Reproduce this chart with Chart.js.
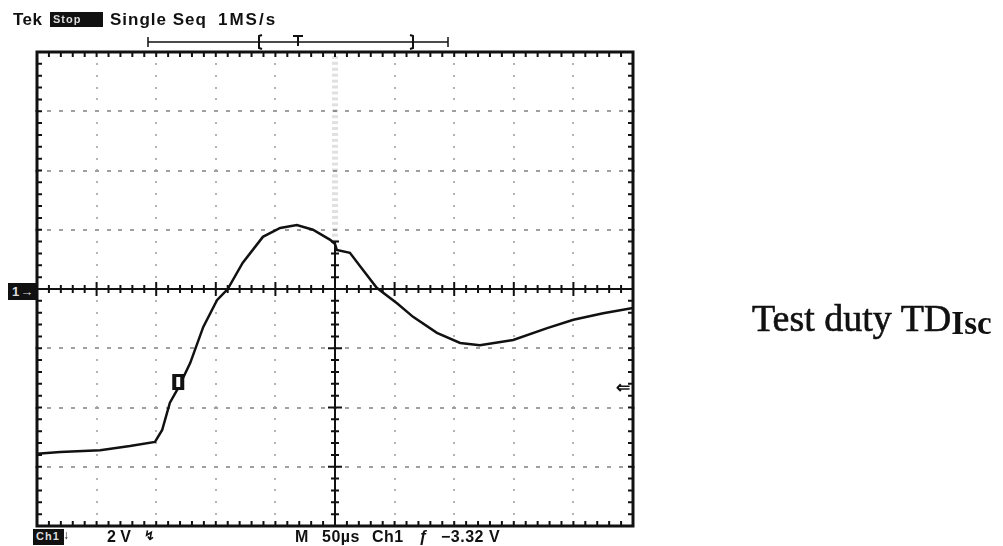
<!DOCTYPE html>
<html>
<head>
<meta charset="utf-8">
<script src="https://cdn.jsdelivr.net/npm/chart.js@4.4.0/dist/chart.umd.min.js"></script>
<style>
  html, body { margin: 0; padding: 0; background: #fff; }
  #wrap { position: relative; width: 1003px; height: 546px; overflow: hidden; }
  #scope { position: absolute; left: 0; top: 0; }
  .lbl { position: absolute; font-family: "Liberation Sans", Arial, sans-serif; font-weight: bold; font-size: 16px; color: #111; white-space: nowrap; line-height: 1; }
  .inv { background: #111; color: #ddd; padding: 2px 3px; font-size: 11px; letter-spacing: 1px; }
  #title { position: absolute; left: 752px; top: 299px; font-family: "Liberation Serif", "Times New Roman", serif; font-size: 38px; color: #111; white-space: nowrap; line-height: 1; -webkit-text-stroke: 0.6px #111; }
  #title sub { font-size: 33px; font-weight: bold; vertical-align: baseline; position: relative; top: 3px; letter-spacing: 0; -webkit-text-stroke: 0; }
</style>
</head>
<body>
<div id="wrap">
  <canvas id="scope" width="1003" height="546"></canvas>
  <div class="lbl" style="left:13px;top:11px;font-size:17px;letter-spacing:0.5px;">Tek</div>
  <div class="lbl inv" style="left:50px;top:12px;width:47px;height:11px;">Stop</div>
  <div class="lbl" style="left:110px;top:11px;font-size:17px;letter-spacing:1px;">Single Seq</div>
  <div class="lbl" style="left:218px;top:11px;font-size:17px;letter-spacing:2px;">1MS/s</div>

  <div class="lbl inv" style="left:33px;top:529px;width:25px;height:12px;">Ch1</div>
  <div class="lbl" style="left:63px;top:529px;font-size:12px;">↓</div>
  <div class="lbl" style="left:107px;top:529px;">2 V</div>
  <div class="lbl" style="left:144px;top:529px;font-size:13px;">↯</div>
  <div class="lbl" style="left:295px;top:529px;">M</div>
  <div class="lbl" style="left:322px;top:529px;letter-spacing:0.5px;">50µs</div>
  <div class="lbl" style="left:372px;top:529px;letter-spacing:0.5px;">Ch1</div>
  <div class="lbl" style="left:419px;top:529px;">ƒ</div>
  <div class="lbl" style="left:441px;top:529px;letter-spacing:0.5px;">−3.32 V</div>

  <div class="lbl inv" style="left:8px;top:283px;font-size:13px;padding:2px 4px;">1→</div>
  <div class="lbl" style="left:616px;top:379px;font-size:17px;">⇐</div>

  <div id="title">Test duty TD<sub>Isc</sub></div>
</div>
<script>
// graticule: 10 x 8 divisions, centre at (5, 0)
const X_DIVS = 10;
const Y_MIN = -4;
const Y_MAX = 4;

// trace, in divisions
const traceX = [0, 0.39, 1.06, 1.56, 1.98, 2.10, 2.23, 2.37, 2.57, 2.79, 3.02, 3.20, 3.45, 3.79, 4.08, 4.36, 4.63, 4.92, 5.00, 5.03, 5.25, 5.47, 5.70, 6.04, 6.31, 6.71, 7.10, 7.43, 7.99, 8.56, 9.00, 9.50, 10.0];
const traceY = [-2.78, -2.75, -2.72, -2.65, -2.58, -2.38, -1.92, -1.67, -1.25, -0.64, -0.19, 0, 0.44, 0.88, 1.03, 1.08, 1.00, 0.83, 0.76, 0.66, 0.61, 0.32, 0.02, -0.24, -0.47, -0.74, -0.91, -0.95, -0.86, -0.66, -0.52, -0.41, -0.32];

// channel marker on the trace
const markerX = [2.37];
const markerY = [-1.57];

const $ = (id) => document.getElementById(id);

const graticule = {
  id: "graticule",
  beforeDatasetsDraw(chart){
    const { ctx, chartArea: a, scales: { x, y } } = chart;
    ctx.save();

    // dotted grid
    ctx.fillStyle = "#b4b4b4";
    for (let i = 1; i < X_DIVS; i++) {
      if (i === 5) continue;
      const px = Math.round(x.getPixelForValue(i));
      for (let v = Y_MIN; v <= Y_MAX; v += 0.2) {
        ctx.fillRect(px - 1, Math.round(y.getPixelForValue(v)) - 1, 2, 2);
      }
    }
    ctx.fillStyle = "#a0a0a0";
    for (let j = Y_MIN + 1; j < Y_MAX; j++) {
      if (j === 0) continue;
      const py = Math.round(y.getPixelForValue(j));
      for (let v = 0; v <= X_DIVS; v += 0.2) {
        ctx.fillRect(Math.round(x.getPixelForValue(v)) - 2, py - 1, 4, 2);
      }
    }

    const cx = x.getPixelForValue(5);
    const cy = y.getPixelForValue(0);
    const cutY = y.getPixelForValue(0.8);

    // faint dotted smear on the upper half of the centre line
    ctx.fillStyle = "rgba(0,0,0,0.12)";
    for (let v = 0.8; v <= Y_MAX; v += 0.1) {
      ctx.fillRect(cx - 3, y.getPixelForValue(v) - 2, 6, 3);
    }

    // centre cross with ticks
    ctx.strokeStyle = "#111";
    ctx.lineWidth = 2;
    ctx.beginPath();
    ctx.moveTo(a.left, cy); ctx.lineTo(a.right, cy);
    ctx.moveTo(cx, cutY); ctx.lineTo(cx, a.bottom);
    ctx.stroke();

    ctx.beginPath();
    for (let v = 0; v <= X_DIVS + 0.001; v += 0.2) {
      const px = x.getPixelForValue(v);
      const major = Math.abs(v - Math.round(v)) < 0.01;
      const len = major ? 7 : 4;
      ctx.moveTo(px, cy - len); ctx.lineTo(px, cy + len);
      // border ticks
      ctx.moveTo(px, a.top); ctx.lineTo(px, a.top + 5);
      ctx.moveTo(px, a.bottom); ctx.lineTo(px, a.bottom - 5);
    }
    for (let v = Y_MIN; v <= Y_MAX + 0.001; v += 0.2) {
      const py = y.getPixelForValue(v);
      const major = Math.abs(v - Math.round(v)) < 0.01;
      const len = major ? 7 : 4;
      if (py >= cutY - 1) { ctx.moveTo(cx - len, py); ctx.lineTo(cx + len, py); }
      ctx.moveTo(a.left, py); ctx.lineTo(a.left + 5, py);
      ctx.moveTo(a.right, py); ctx.lineTo(a.right - 5, py);
    }
    ctx.stroke();

    // frame
    ctx.lineWidth = 3;
    ctx.strokeRect(a.left, a.top, a.right - a.left, a.bottom - a.top);

    // record-length bar above the screen
    ctx.lineWidth = 1.5;
    ctx.beginPath();
    ctx.moveTo(148, 42); ctx.lineTo(448, 42);
    ctx.moveTo(148, 37); ctx.lineTo(148, 47);
    ctx.moveTo(448, 37); ctx.lineTo(448, 47);
    ctx.stroke();
    ctx.lineWidth = 2;
    ctx.beginPath();
    ctx.moveTo(262, 35); ctx.lineTo(259, 36); ctx.lineTo(259, 48); ctx.lineTo(262, 49);
    ctx.moveTo(410, 35); ctx.lineTo(413, 36); ctx.lineTo(413, 48); ctx.lineTo(410, 49);
    ctx.moveTo(293, 36); ctx.lineTo(303, 36);
    ctx.moveTo(298, 36); ctx.lineTo(298, 46);
    ctx.stroke();

    ctx.restore();
  },
  afterDatasetsDraw(chart){
    const { ctx, scales: { x, y } } = chart;
    ctx.save();
    markerX.forEach((mx, i) => {
      const px = x.getPixelForValue(mx);
      const py = y.getPixelForValue(markerY[i]);
      ctx.fillStyle = "#111";
      ctx.fillRect(px - 6, py - 8, 12, 16);
      ctx.fillStyle = "#fff";
      ctx.fillRect(px - 2, py - 5, 4, 10);
    });
    ctx.restore();
  }
};

new Chart($("scope"), {
  type: "scatter",
  data: {
    datasets: [{
      data: traceX.map((v, i) => ({ x: v, y: traceY[i] })),
      showLine: true,
      borderColor: "#111",
      borderWidth: 2.5,
      pointRadius: 0,
      tension: 0
    }]
  },
  options: {
    responsive: false,
    animation: false,
    devicePixelRatio: 1,
    layout: { padding: { left: 37, top: 52, right: 370, bottom: 20 } },
    plugins: { legend: { display: false }, tooltip: { enabled: false } },
    scales: {
      x: { type: "linear", min: 0, max: X_DIVS, display: false },
      y: { type: "linear", min: Y_MIN, max: Y_MAX, display: false }
    }
  },
  plugins: [graticule]
});
</script>
</body>
</html>
